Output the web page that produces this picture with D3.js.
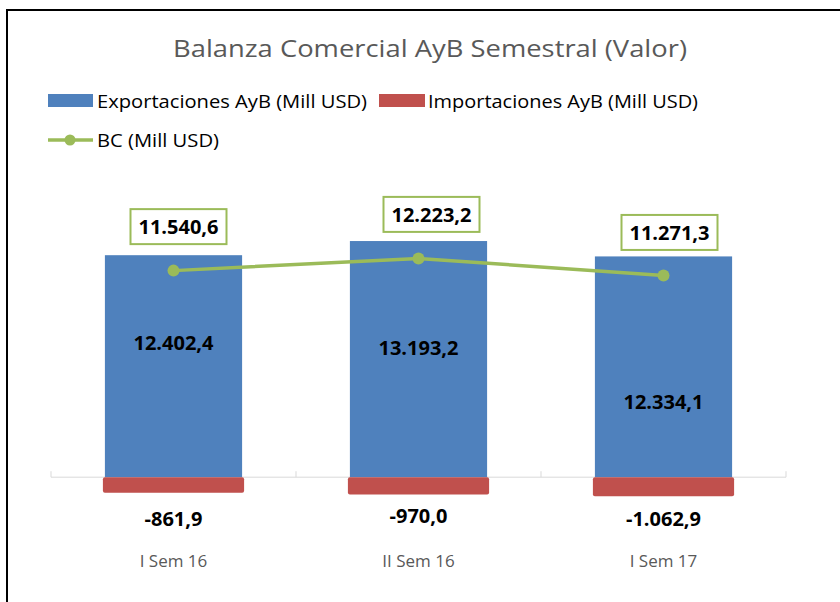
<!DOCTYPE html>
<html>
<head>
<meta charset="utf-8">
<script src="https://cdn.jsdelivr.net/npm/d3@7"></script>
<style>
  body { margin: 0; background: #fff; }
  text { font-family: "Open Sans", sans-serif; }
</style>
</head>
<body>
<svg id="chart" width="840" height="602"></svg>
<script>
const categories = ['I Sem 16', 'II Sem 16', 'I Sem 17'];
const exportaciones = [12402.4, 13193.2, 12334.1];
const importaciones = [-861.9, -970.0, -1062.9];
const balanza = [11540.6, 12223.2, 11271.3];
const seriesNames = ['Exportaciones AyB (Mill USD)', 'Importaciones AyB (Mill USD)', 'BC (Mill USD)'];

const colors = { exp: '#4f81bd', imp: '#c0504d', bc: '#9bbb59' };
const es = d3.formatLocale({ decimal: ',', thousands: '.', grouping: [3], currency: ['', ''], minus: '-' });
const fmt = es.format(',.1f');

// label nudges (pixels), excel labels were moved by hand
const expLabelDy = [-24, -12, 35];
const impLabelDy = [26, 21, 22];
const bcLabelDx = [5, 13, 6];
const bcLabelDy = [-44, -44, -43];

const svg = d3.select('#chart');

// outer frame (cropped at right/bottom)
svg.append('rect')
  .attr('x', 7).attr('y', 10)
  .attr('width', 900).attr('height', 700)
  .attr('fill', 'none').attr('stroke', '#000').attr('stroke-width', 2);

svg.append('text')
  .attr('x', 430).attr('y', 57)
  .attr('text-anchor', 'middle')
  .attr('textLength', 514).attr('lengthAdjust', 'spacingAndGlyphs')
  .style('font-size', '24px')
  .attr('fill', '#595959')
  .text('Balanza Comercial AyB Semestral (Valor)');

const x = d3.scaleBand().domain(categories).range([51, 786])
  .paddingInner(0.44).paddingOuter(0.22);
const y = d3.scaleLinear().domain([-2000, 18000]).range([513, 155]);

// axis line + ticks
const y0 = y(0);
svg.append('line')
  .attr('x1', 51).attr('x2', 786).attr('y1', y0).attr('y2', y0)
  .attr('stroke', '#d9d9d9').attr('stroke-width', 1);
const step = x.step();
d3.range(categories.length + 1).forEach(i => {
  const tx = 51 + i * step;
  svg.append('line')
    .attr('x1', tx).attr('x2', tx).attr('y1', y0 - 6).attr('y2', y0)
    .attr('stroke', '#d9d9d9');
});

// export bars
svg.selectAll('rect.exp')
  .data(exportaciones)
  .join('rect')
  .attr('class', 'exp')
  .attr('x', (d, i) => x(categories[i]))
  .attr('y', d => y(d))
  .attr('width', x.bandwidth())
  .attr('height', d => y(0) - y(d))
  .attr('fill', colors.exp);

// import bars
svg.selectAll('rect.imp')
  .data(importaciones)
  .join('rect')
  .attr('class', 'imp')
  .attr('x', (d, i) => x(categories[i]) - 2)
  .attr('y', y(0))
  .attr('width', x.bandwidth() + 4)
  .attr('height', d => y(d) - y(0))
  .attr('rx', 2)
  .attr('fill', colors.imp);

// BC line
const cx = i => x(categories[i]) + x.bandwidth() / 2;
svg.append('path')
  .datum(balanza)
  .attr('d', d3.line().x((d, i) => cx(i)).y(d => y(d)))
  .attr('fill', 'none')
  .attr('stroke', colors.bc)
  .attr('stroke-width', 3.5);
svg.selectAll('circle.bc')
  .data(balanza)
  .join('circle')
  .attr('class', 'bc')
  .attr('cx', (d, i) => cx(i))
  .attr('cy', d => y(d))
  .attr('r', 6)
  .attr('fill', colors.bc);

// export labels
svg.selectAll('text.explbl')
  .data(exportaciones)
  .join('text')
  .attr('class', 'explbl')
  .attr('x', (d, i) => cx(i))
  .attr('y', (d, i) => (y(d) + y(0)) / 2 + expLabelDy[i])
  .attr('text-anchor', 'middle')
  .attr('dominant-baseline', 'central')
  .style('font-size', '20px').style('font-weight', 'bold')
  .text(d => fmt(d));

// import labels
svg.selectAll('text.implbl')
  .data(importaciones)
  .join('text')
  .attr('class', 'implbl')
  .attr('x', (d, i) => cx(i))
  .attr('y', (d, i) => y(d) + impLabelDy[i])
  .attr('text-anchor', 'middle')
  .attr('dominant-baseline', 'central')
  .style('font-size', '20px').style('font-weight', 'bold')
  .text(d => fmt(d));

// BC labels in boxes
balanza.forEach((d, i) => {
  const lx = cx(i) + bcLabelDx[i];
  const ly = y(d) + bcLabelDy[i];
  svg.append('rect')
    .attr('x', lx - 48).attr('y', ly - 17.5)
    .attr('width', 96).attr('height', 35)
    .attr('fill', '#fff').attr('stroke', colors.bc).attr('stroke-width', 2);
  svg.append('text')
    .attr('x', lx).attr('y', ly)
    .attr('text-anchor', 'middle')
    .attr('dominant-baseline', 'central')
    .style('font-size', '20px').style('font-weight', 'bold')
    .text(fmt(d));
});

// category labels
svg.selectAll('text.cat')
  .data(categories)
  .join('text')
  .attr('class', 'cat')
  .attr('x', d => x(d) + x.bandwidth() / 2)
  .attr('y', 560)
  .attr('text-anchor', 'middle')
  .attr('dominant-baseline', 'central')
  .attr('fill', '#595959')
  .style('font-size', '17px')
  .text(d => d);

// legend
const leg = svg.append('g').attr('class', 'legend');
const legText = (tx, ty, s, len) => leg.append('text')
  .attr('x', tx).attr('y', ty).attr('dominant-baseline', 'central')
  .attr('textLength', len).attr('lengthAdjust', 'spacingAndGlyphs')
  .style('font-size', '18px').attr('fill', '#000').text(s);
leg.append('rect').attr('x', 48).attr('y', 94).attr('width', 45).attr('height', 13).attr('fill', colors.exp);
legText(97, 101, seriesNames[0], 270);
leg.append('rect').attr('x', 379).attr('y', 94).attr('width', 46).attr('height', 13).attr('fill', colors.imp);
legText(428, 101, seriesNames[1], 270);
leg.append('line').attr('x1', 48).attr('x2', 93).attr('y1', 140).attr('y2', 140)
  .attr('stroke', colors.bc).attr('stroke-width', 3.5);
leg.append('circle').attr('cx', 70).attr('cy', 140).attr('r', 5.5).attr('fill', colors.bc);
legText(97, 140, seriesNames[2], 122);
</script>
</body>
</html>
